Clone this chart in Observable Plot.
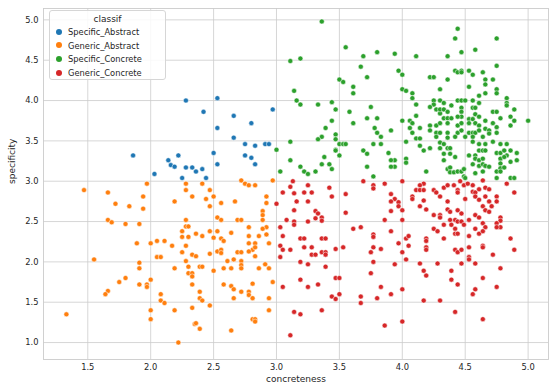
<!DOCTYPE html>
<html><head><meta charset="utf-8">
<script src="https://cdn.jsdelivr.net/npm/d3@7"></script>
<script src="https://cdn.jsdelivr.net/npm/@observablehq/plot@0.6"></script>
<style>
body{margin:0;background:#fff;}
#chart{position:relative;width:550px;height:389px;font-family:"DejaVu Sans",sans-serif;}
#legend{position:absolute;left:49px;top:10px;width:117px;height:70px;box-sizing:border-box;border:1px solid #d6d6d6;border-radius:3px;background:rgba(255,255,255,0.85);font-size:8.3px;color:#262626;}
#legend .title{position:absolute;left:0;right:0;top:3px;text-align:center;font-size:9px;}
#legend .item{position:absolute;left:6px;height:12px;line-height:12px;white-space:nowrap;}
#legend .sw{display:inline-block;width:6px;height:6px;border-radius:50%;margin-right:6px;vertical-align:middle;position:relative;top:-1px;}
</style></head><body><div id="chart"></div>
<script>
const classes = ["Specific_Abstract","Generic_Abstract","Specific_Concrete","Generic_Concrete"];
const colors = ["#1f77b4","#ff7f0e","#2ca02c","#d62728"];
const xTicks = [1.5,2.0,2.5,3.0,3.5,4.0,4.5,5.0];
const yTicks = [1.0,1.5,2.0,2.5,3.0,3.5,4.0,4.5,5.0];

const specificAbstract = [[1.86,3.32],[2.03,3.09],[2.14,3.26],[2.16,3.20],[2.19,3.18],[2.22,3.32],[2.25,3.04],[2.28,3.17],[2.33,3.17],[2.36,3.12],[2.41,3.15],[2.44,3.04],[2.50,3.35],[2.53,3.21],[2.28,4.00],[2.53,4.03],[2.42,3.86],[2.53,3.66],[2.66,3.81],[2.66,3.54],[2.75,3.46],[2.83,3.44],[2.91,3.46],[2.94,3.46],[2.75,3.32],[2.80,3.29],[2.83,3.21],[2.80,3.72],[2.97,3.89]];

const genericAbstract = [[1.97,2.97],[1.47,2.89],[1.66,2.86],[2.28,2.97],[2.28,2.89],[1.94,2.81],[2.33,2.81],[1.72,2.72],[1.83,2.69],[1.94,2.66],[2.19,2.75],[1.66,2.52],[1.69,2.49],[1.80,2.47],[1.91,2.47],[2.28,2.52],[2.28,2.44],[2.30,2.44],[2.25,2.38],[2.25,2.31],[2.30,2.31],[1.89,2.23],[2.00,2.23],[2.05,2.26],[2.11,2.26],[2.17,2.20],[2.28,2.20],[2.25,2.12],[1.55,2.03],[1.91,1.99],[1.91,1.92],[2.05,2.06],[2.08,2.06],[2.33,2.09],[2.28,2.01],[2.30,1.94],[2.19,1.92],[2.30,1.86],[2.33,1.86],[2.33,1.72],[1.80,1.80],[1.75,1.75],[1.66,1.64],[1.64,1.60],[1.91,1.72],[1.97,1.72],[1.97,1.69],[2.00,1.78],[2.08,1.60],[2.08,1.52],[2.11,1.49],[2.19,1.40],[2.33,1.43],[2.00,1.40],[2.00,1.29],[1.33,1.35],[2.35,1.23],[2.22,1.00],
[2.72,3.01],[2.75,2.97],[2.78,2.95],[2.83,2.95],[2.97,3.01],[2.41,2.97],[2.47,2.89],[2.50,2.81],[2.44,2.78],[2.56,2.73],[2.47,2.69],[2.67,2.75],[2.92,2.81],[2.92,2.73],[2.89,2.63],[2.89,2.58],[2.53,2.55],[2.56,2.52],[2.69,2.52],[2.72,2.52],[2.89,2.52],[2.78,2.43],[2.92,2.43],[2.47,2.38],[2.53,2.38],[2.64,2.36],[2.89,2.41],[2.36,2.35],[2.41,2.32],[2.56,2.29],[2.50,2.30],[2.78,2.32],[2.86,2.32],[2.92,2.34],
[2.58,2.26],[2.78,2.23],[2.83,2.23],[2.94,2.23],[2.36,2.07],[2.47,2.10],[2.53,2.13],[2.56,2.15],[2.56,2.11],[2.61,2.01],[2.66,2.03],[2.69,2.12],[2.72,2.12],[2.72,2.01],[2.72,1.96],[2.72,1.92],[2.81,2.15],[2.83,2.18],[2.83,2.07],[2.78,2.13],[2.33,1.82],[2.39,1.94],[2.41,1.94],[2.50,1.89],[2.58,1.92],[2.64,1.92],[2.86,1.92],[2.91,1.97],[2.94,1.92],[2.58,1.72],[2.64,1.70],[2.66,1.66],[2.72,1.63],[2.78,1.63],[2.78,1.59],[2.81,1.73],[2.97,1.75],[2.39,1.63],[2.39,1.55],[2.41,1.52],[2.47,1.46],[2.66,1.55],[2.81,1.55],[2.94,1.55],[2.94,1.40],[2.81,1.29],[2.83,1.29],[2.83,1.26],[2.36,1.24],[2.39,1.17],[2.64,1.15]];

const specificConcrete = [[3.36,4.98],[3.55,4.66],[3.11,4.49],[3.19,4.52],[3.50,4.26],[3.53,4.23],[3.14,4.12],[3.16,4.00],[3.19,3.95],[3.33,3.95],[3.44,3.98],[3.47,3.89],[3.58,3.86],[3.44,3.75],[3.39,3.66],[3.47,3.58],[3.47,3.52],[3.36,3.55],[3.33,3.52],[3.11,3.49],[3.50,3.46],[3.53,3.46],[3.55,3.46],[3.00,3.39],[3.47,3.39],[3.03,3.12],
[3.69,4.55],[3.80,4.60],[3.94,4.58],[4.11,4.55],[3.67,4.42],[3.72,4.29],[3.97,4.37],[4.00,4.32],[3.61,4.17],[3.61,4.09],[4.00,4.14],[4.03,4.12],[4.08,4.09],[4.08,4.03],[4.22,4.29],[4.25,4.29],[4.30,4.14],[4.30,4.00],[4.25,4.00],[4.25,3.95],[4.11,3.95],[4.22,3.92],[4.27,3.89],[4.30,3.84],[3.75,3.92],[3.72,3.78],[3.80,3.78],[3.61,3.72],[4.00,3.75],[4.06,3.75],[4.08,3.72],[4.11,3.81],[4.06,3.66],[4.14,3.66],[4.22,3.69],[4.22,3.63],[4.27,3.69],[3.78,3.66],[3.80,3.60],[3.83,3.55],[3.91,3.63],[4.08,3.60],[4.11,3.53],[4.14,3.53],[4.27,3.60],[4.27,3.55],
[4.44,4.89],[4.42,4.77],[4.75,4.77],[4.47,4.60],[4.58,4.63],[4.36,4.55],[4.75,4.43],[4.42,4.37],[4.44,4.35],[4.47,4.37],[4.47,4.35],[4.53,4.37],[4.56,4.32],[4.64,4.35],[4.36,4.26],[4.66,4.26],[4.66,4.20],[4.72,4.26],[4.53,4.17],[4.75,4.14],[4.75,4.09],[4.66,4.09],[4.61,4.06],[4.33,3.97],[4.44,4.00],[4.47,4.00],[4.50,4.00],[4.56,4.00],[4.61,3.97],[4.39,3.94],[4.47,3.91],[4.56,3.91],[4.58,3.91],[4.83,4.03],[4.83,3.97],[4.83,3.94],[4.30,3.89],[4.33,3.89],[4.36,3.86],[4.47,3.86],[4.47,3.80],[4.44,3.80],[4.53,3.77],[4.56,3.77],[4.58,3.83],[4.61,3.80],[4.33,3.78],[4.36,3.78],[4.39,3.78],[4.72,3.86],[4.75,3.86],[4.78,3.78],[4.89,3.89],[4.86,3.80],[4.89,3.75],[5.00,3.75],[4.30,3.72],[4.36,3.72],[4.44,3.69],[4.47,3.72],[4.53,3.72],[4.58,3.72],[4.66,3.75],[4.61,3.69],[4.72,3.72],[4.86,3.69],[4.30,3.60],[4.36,3.60],[4.44,3.60],[4.47,3.63],[4.53,3.60],[4.56,3.60],[4.58,3.60],[4.61,3.63],[4.66,3.65],[4.69,3.63],[4.75,3.67],[4.42,3.55],[4.50,3.55],[4.56,3.55],[4.64,3.55],[4.69,3.59],[4.75,3.60],
[3.83,3.46],[4.03,3.49],[4.14,3.44],[4.17,3.38],[4.22,3.41],[4.36,3.54],[4.30,3.48],[4.33,3.46],[4.30,3.41],[4.36,3.41],[4.38,3.41],[4.33,3.34],[4.38,3.34],[4.42,3.30],[4.33,3.26],[3.89,3.35],[3.94,3.26],[3.94,3.18],[3.91,3.18],[4.03,3.28],[4.03,3.23],[4.19,3.12],[4.36,3.15],[4.38,3.17],[4.38,3.11],[4.41,3.11],[4.44,3.12],[4.47,3.12],[4.49,3.15],[4.49,3.06],
[4.56,3.49],[4.61,3.46],[4.66,3.46],[4.72,3.49],[4.78,3.46],[4.83,3.46],[4.53,3.32],[4.58,3.32],[4.61,3.38],[4.64,3.38],[4.66,3.38],[4.58,3.28],[4.61,3.26],[4.64,3.28],[4.75,3.35],[4.78,3.35],[4.81,3.38],[4.86,3.38],[4.83,3.32],[4.91,3.35],[4.78,3.28],[4.81,3.30],[4.86,3.24],[4.91,3.26],[4.56,3.21],[4.61,3.19],[4.64,3.21],[4.66,3.19],[4.69,3.18],[4.78,3.22],[4.78,3.16],[4.81,3.17],[4.75,3.12],[4.78,3.12],[4.58,3.10],[4.64,3.12],[4.50,3.04],[4.75,3.04],[4.86,3.04],[4.89,3.04],
[3.77,3.46],[3.47,3.38],[3.50,3.32],[3.69,3.38],[3.72,3.34],[3.38,3.30],[3.36,3.21],[3.42,3.21],[3.44,3.15],[3.11,3.26],[3.19,3.18],[3.22,3.12],[3.25,3.09],[3.31,3.12],[3.72,3.18],[3.77,3.06],[3.91,3.26]];

const genericConcrete = [[3.13,3.00],[3.11,2.93],[3.05,2.86],[3.14,2.85],[3.00,2.72],[3.14,2.64],[3.08,2.52],[3.14,2.50],[3.03,2.43],[3.05,2.32],
[3.25,2.95],[3.22,2.86],[3.28,2.86],[3.42,2.92],[3.44,2.81],[3.16,2.75],[3.25,2.75],[3.31,2.63],[3.33,2.60],[3.31,2.54],[3.36,2.55],[3.36,2.51],[3.25,2.50],[3.14,2.46],[3.55,2.84],[3.55,2.61],[3.69,3.00],[3.77,2.95],[3.77,2.91],[3.86,2.97],[3.91,2.84],[3.94,2.78],[3.91,2.63],[3.86,2.52],[3.61,2.41],[3.67,2.43],[3.77,2.34],[3.77,2.31],[3.19,2.29],[3.22,2.29],[3.36,2.29],[3.39,2.29],[3.22,2.18],[3.28,2.18],[3.47,2.16],[3.53,2.18],[3.77,2.18],[3.83,2.16],
[3.03,2.20],[3.05,2.15],[3.11,2.15],[3.03,2.06],[3.05,1.69],[3.14,1.38],[3.11,1.09],
[3.28,2.09],[3.31,2.09],[3.36,2.12],[3.39,2.12],[3.39,2.09],[3.75,2.12],[3.19,2.00],[3.25,1.97],[3.39,1.94],[3.77,2.00],[3.75,1.86],[3.94,1.97],[3.47,1.80],[3.50,1.80],[3.19,1.78],[3.25,1.69],[3.33,1.72],[3.83,1.69],[3.44,1.57],[3.47,1.54],[3.50,1.60],[3.67,1.57],[3.67,1.49],[3.80,1.55],[3.91,1.60],[3.19,1.35],[3.36,1.40],[3.86,1.21],
[4.00,3.00],[3.97,2.74],[3.97,2.69],[4.00,2.64],[3.91,2.75],[4.00,2.52],[4.17,2.97],[4.14,2.95],[4.11,2.89],[4.14,2.89],[4.17,2.89],[4.08,2.81],[4.08,2.78],[4.17,2.76],[4.14,2.69],[4.19,2.65],[4.25,2.89],[4.27,2.86],[4.30,2.81],[4.33,2.92],[4.36,2.95],[4.41,2.95],[4.44,2.89],[4.44,2.86],[4.46,3.00],[4.49,2.95],[4.52,2.97],[4.36,2.75],[4.36,2.65],[4.38,2.62],[4.44,2.64],[4.47,2.60],[4.25,2.58],[4.30,2.58],[4.30,2.55],[4.38,2.52],[4.42,2.52],[4.44,2.50],[4.39,2.46],[4.47,2.50],[4.49,2.46],[4.25,2.41],
[4.64,3.01],[4.83,2.97],[4.56,2.95],[4.56,2.87],[4.58,2.86],[4.61,2.90],[4.66,2.92],[4.69,2.90],[4.89,2.86],[4.58,2.81],[4.61,2.77],[4.66,2.81],[4.69,2.75],[4.75,2.81],[4.75,2.75],[4.50,2.78],[4.64,2.69],[4.71,2.69],[4.66,2.64],[4.69,2.62],[4.58,2.58],[4.61,2.55],[4.78,2.55],[4.78,2.51],[4.75,2.48],[4.78,2.43],[4.53,2.52],[4.64,2.48],[4.66,2.43],[4.58,2.41],
[3.91,2.38],[3.97,2.23],[4.03,2.29],[4.05,2.32],[4.05,2.20],[4.00,2.12],[4.03,2.03],[4.00,1.66],[4.00,1.26],[4.19,2.29],[4.19,2.26],[4.19,2.18],[4.19,2.15],[4.28,2.38],[4.33,2.29],[4.33,2.46],[4.42,2.41],[4.42,2.35],[4.44,2.35],[4.53,2.32],[4.61,2.35],[4.64,2.38],[4.75,2.43],[4.42,2.15],[4.44,2.12],[4.47,2.15],[4.53,2.18],[4.53,2.06],[4.53,2.03],[4.64,2.20],[4.64,2.18],[4.14,1.98],[4.17,1.89],[4.19,1.83],[4.28,1.98],[4.39,1.89],[4.39,1.78],[4.47,1.98],[4.44,1.72],[4.58,1.98],[4.64,1.80],[4.58,1.66],[4.56,1.60],[4.72,2.09],[4.75,1.69],[4.78,1.92],[4.86,2.29],[4.89,2.15],[4.17,1.52],[4.30,1.52],[4.42,1.38],[4.64,1.29]];

const groups = [specificAbstract, genericAbstract, specificConcrete, genericConcrete];
const rows = [];
groups.forEach((arr, i) => arr.forEach(([x, y]) => rows.push({concreteness: x, specificity: y, classif: classes[i]})));

const fmt = d3.format(".1f");
const chart = Plot.plot({
  width: 550, height: 389,
  marginLeft: 43, marginRight: 2, marginTop: 8, marginBottom: 30,
  style: {fontFamily: "'DejaVu Sans', sans-serif", fontSize: "8.3px", color: "#262626", background: "#ffffff"},
  x: {domain: [1.148, 5.162]},
  y: {domain: [0.79, 5.141]},
  color: {domain: classes, range: colors},
  marks: [
    Plot.gridX(xTicks, {stroke: "#cccccc", strokeOpacity: 1, strokeWidth: 0.8}),
    Plot.gridY(yTicks, {stroke: "#cccccc", strokeOpacity: 1, strokeWidth: 0.8}),
    Plot.frame({stroke: "#cccccc", strokeWidth: 0.9}),
    Plot.axisX(xTicks, {tickSize: 0, tickPadding: 5, tickFormat: fmt, label: null, fill: "#262626"}),
    Plot.axisY(yTicks, {tickSize: 0, tickPadding: 5, tickFormat: fmt, label: null, fill: "#262626"}),
    Plot.text(["concreteness"], {frameAnchor: "bottom", dy: 22, fontSize: 9, fill: "#262626"}),
    Plot.text(["specificity"], {frameAnchor: "left", dx: -31, rotate: -90, fontSize: 9, fill: "#262626"}),
    Plot.dot(rows, {x: "concreteness", y: "specificity", fill: "classif", r: 2.5, stroke: "white", strokeWidth: 0.5})
  ]
});
const root = document.getElementById("chart");
root.appendChild(chart);

const legend = document.createElement("div");
legend.id = "legend";
legend.innerHTML = '<div class="title">classif</div>' +
  classes.map((c, i) => `<div class="item" style="top:${15 + i * 13.7}px"><span class="sw" style="background:${colors[i]}"></span>${c}</div>`).join("");
root.appendChild(legend);
</script>
</body></html>
